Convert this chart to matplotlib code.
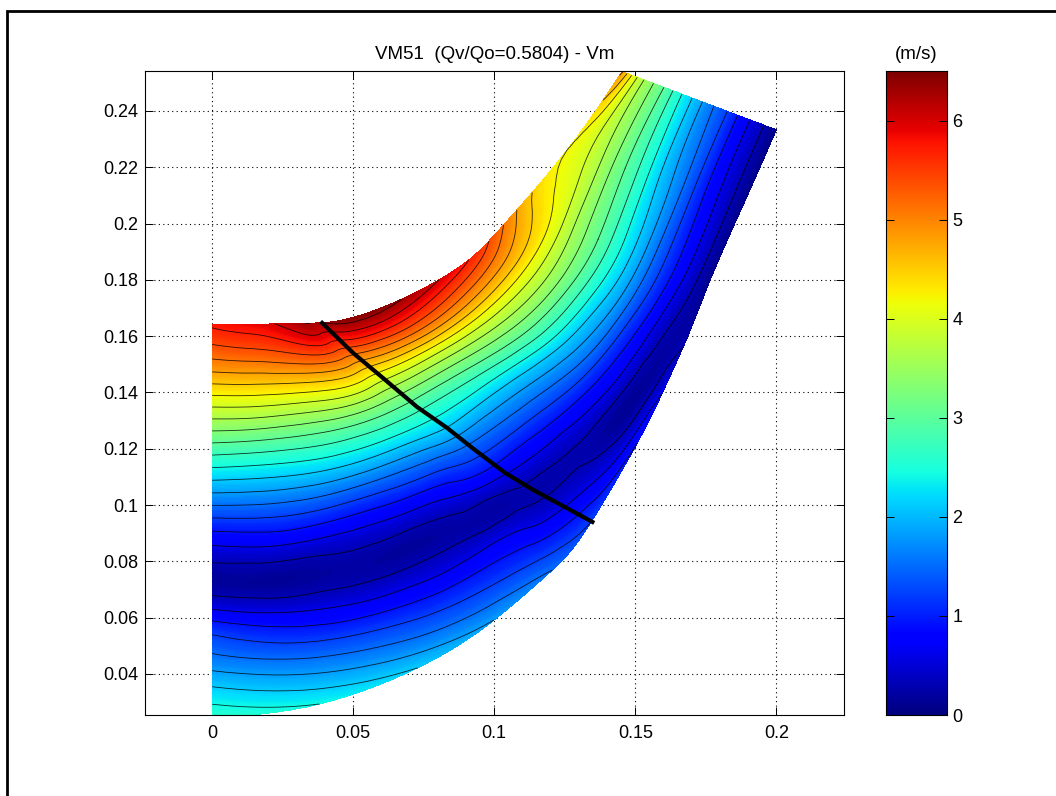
import numpy as np
import matplotlib
matplotlib.use('Agg')
import matplotlib.pyplot as plt
import matplotlib.tri as mtri
from matplotlib.lines import Line2D

plt.rcParams['font.family'] = ['Liberation Sans', 'DejaVu Sans']

# stations across the channel: shroud point and hub point
shroud_x = [0, .0100, .0197, .0295, .0345, .0394, .0549, .0785, .0950, .1080, .1258, .1453]
shroud_y = [.1640, .1641, .1643, .1645, .1646, .1648, .1682, .1789, .1906, .2048, .2261, .2540]
hub_x = [0, .0380, .0727, .1000, .1206, .1344, .1507, .1596, .1684, .1766, .1883, .2000]
hub_y = [.0247, .0293, .0421, .0592, .0769, .0940, .1220, .1398, .1594, .1800, .2067, .2333]

# position across the channel, 0 = shroud, 1 = hub
span = [0, .08, .17, .25, .33, .42, .5, .58, .67, .75, .83, .92, 1]

# Vm (m/s), one row per station
vm_table = [
    [5.75, 5.16, 4.3, 3.5, 2.72, 1.88, 1.13, .47, .2, .85, 1.45, 2.08, 2.6],
    [5.85, 5.25, 4.37, 3.55, 2.75, 1.95, 1.25, .6, .15, .55, 1.15, 1.8, 2.4],
    [5.95, 5.4, 4.52, 3.68, 2.9, 2.12, 1.38, .72, .22, .35, .9, 1.5, 2.1],
    [6.2, 5.65, 4.72, 3.88, 3.05, 2.27, 1.55, .92, .3, .25, .7, 1.25, 1.8],
    [6.3, 5.7, 4.8, 3.97, 3.18, 2.45, 1.82, 1.22, .65, .2, .5, 1.0, 1.5],
    [6.3, 5.75, 4.88, 4.05, 3.3, 2.6, 2.07, 1.5, .95, .45, .25, .65, 1.2],
    [6.45, 5.85, 5.05, 4.22, 3.5, 2.85, 2.3, 1.8, 1.3, .85, .4, .2, .9],
    [6.05, 5.45, 4.75, 4.1, 3.55, 3.0, 2.5, 2.0, 1.5, 1.0, .55, .15, .6],
    [5.55, 5.05, 4.5, 4.0, 3.55, 3.05, 2.6, 2.15, 1.65, 1.15, .7, .25, .25],
    [4.8, 4.5, 4.2, 3.8, 3.4, 3.0, 2.6, 2.2, 1.7, 1.25, .85, .4, .08],
    [4.2, 4.0, 3.7, 3.35, 3.0, 2.6, 2.2, 1.85, 1.45, 1.05, .7, .35, .06],
    [4.85, 4.05, 3.45, 3.1, 2.7, 2.25, 1.9, 1.55, 1.25, .9, .6, .3, .03],
]

# thick black line
line_x = [.0390, .0500, .0606, .0727, .0833, .0926, .1039, .1138, .1348]
line_y = [.1647, .1540, .1451, .1348, .1274, .1200, .1114, .1054, .0940]

xticks = [0, .05, .1, .15, .2]
xticklabels = ['0', '0.05', '0.1', '0.15', '0.2']
yticks = [.04, .06, .08, .1, .12, .14, .16, .18, .2, .22, .24]
yticklabels = ['0.04', '0.06', '0.08', '0.1', '0.12', '0.14', '0.16', '0.18', '0.2', '0.22', '0.24']
cbar_ticks = [0, 1, 2, 3, 4, 5, 6]

W, H = 1056, 796
fig = plt.figure(figsize=(W / 100, H / 100), dpi=100)


def axes_px(left, top, right, bottom):
    return fig.add_axes([left / W, 1 - bottom / H, (right - left) / W, (bottom - top) / H])


ax = axes_px(145, 71, 844, 715)

# mesh between shroud and hub
t = np.array(span)[None, :]
sx, sy = np.array(shroud_x)[:, None], np.array(shroud_y)[:, None]
hx, hy = np.array(hub_x)[:, None], np.array(hub_y)[:, None]
mesh_x = sx + (hx - sx) * t
mesh_y = sy + (hy - sy) * t
vm = np.array(vm_table)

# refine in station/span space so the edges of the channel stay smooth
ni, nj = vm.shape
ii, jj = np.meshgrid(np.arange(ni), np.array(span) * (nj - 1), indexing='ij')
triangles = []
for i in range(ni - 1):
    for j in range(nj - 1):
        a = i * nj + j
        triangles.append([a, a + 1, a + nj])
        triangles.append([a + 1, a + nj + 1, a + nj])
index_tri = mtri.Triangulation(ii.ravel(), jj.ravel(), triangles)
refiner = mtri.UniformTriRefiner(index_tri)
fine, fine_x = refiner.refine_field(mesh_x.ravel(), subdiv=3)
fine, fine_y = refiner.refine_field(mesh_y.ravel(), subdiv=3)
fine, fine_vm = refiner.refine_field(vm.ravel(), subdiv=3)
tri = mtri.Triangulation(fine_x, fine_y, fine.triangles)

ax.tricontourf(tri, fine_vm, levels=np.linspace(-1, 7.5, 280), cmap='jet', vmin=0, vmax=6.5, zorder=2)
ax.tricontour(tri, fine_vm, levels=np.arange(0.3, 6.6, 0.3), colors='k', linewidths=0.6, alpha=0.8, zorder=3)
ax.plot(line_x, line_y, color='k', lw=3, zorder=4)

ax.set_xlim(-0.0238, 0.224)
ax.set_ylim(0.0254, 0.2542)
ax.set_xticks(xticks)
ax.set_xticklabels(xticklabels)
ax.set_yticks(yticks)
ax.set_yticklabels(yticklabels)
ax.grid(True, color='k', linestyle=(0, (1, 3)), linewidth=0.8, zorder=1)
ax.set_axisbelow(True)
ax.tick_params(direction='in', top=True, right=True, length=6, width=0.7, labelsize=13)
ax.tick_params(axis='x', pad=7)
ax.tick_params(axis='y', pad=5)
for s in ax.spines.values():
    s.set_linewidth(0.8)
ax.set_title('VM51  (Qv/Qo=0.5804) - Vm', fontsize=13.5, pad=9)

# colorbar
cax = axes_px(886, 71, 947, 715)
cax.imshow(np.linspace(6.5, 0, 256)[:, None], aspect='auto', cmap='jet', vmin=0, vmax=6.5,
           extent=[0, 1, 0, 6.5])
cax.set_xticks([])
cax.set_yticks(cbar_ticks)
cax.yaxis.tick_right()
cax.tick_params(direction='in', left=True, right=True, length=6, width=0.7, labelsize=13, pad=4)
cax.set_title('(m/s)', fontsize=13.5, pad=9)

# frame, only on the top and left of the picture
fig.add_artist(Line2D([7 / W, 7 / W, 1], [0, 1 - 11 / H, 1 - 11 / H], color='k', linewidth=2, solid_joinstyle='miter'))

plt.savefig('out.png', dpi=100)
